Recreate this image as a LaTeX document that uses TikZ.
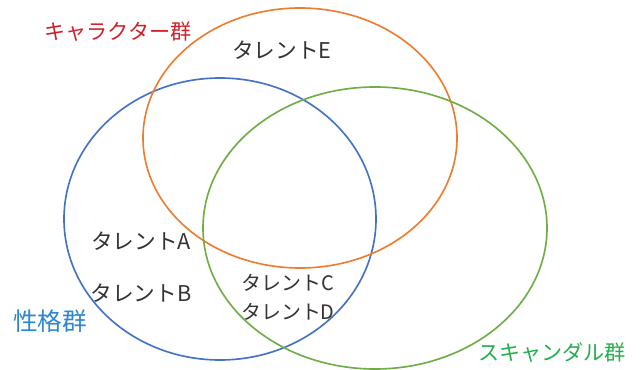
\documentclass[tikz,border=0pt]{standalone}
\usepackage{fontspec}
\setmainfont{Noto Sans CJK JP}
\usepackage{xcolor}
\usetikzlibrary{positioning}
\definecolor{vennblue}{HTML}{4472C4}
\definecolor{vennorange}{HTML}{ED7D31}
\definecolor{venngreen}{HTML}{70AD47}
\definecolor{labelred}{HTML}{D0202A}
\definecolor{labelblue}{HTML}{2E86D0}
\definecolor{labelgreen}{HTML}{22B04A}

\begin{document}
\begin{tikzpicture}[x=0.03cm,y=-0.03cm,
  font=\fontsize{18.5}{21}\selectfont,
  setline/.style={line width=1.4pt},
  talent/.style={text=black!80},
  grouplabel/.style={inner sep=0pt,font=\fontsize{18}{21}\selectfont}]
  \useasboundingbox[fill=white] (0,0) rectangle (643,370);
  % the three groups
  \draw[setline,vennblue] (220,219) ellipse [x radius=156, y radius=141];
  \draw[setline,vennorange] (300,138) ellipse [x radius=157, y radius=130];
  \draw[setline,venngreen] (375,228) ellipse [x radius=172, y radius=141];
  % group names
  \node[grouplabel,labelred] (chara) at (118,32) {キャラクター群};
  \node[grouplabel,labelblue,font=\fontsize{21}{24}\selectfont] (seikaku) at (50,321) {性格群};
  \node[grouplabel,labelgreen] (scandal) at (552,353) {スキャンダル群};
  % talents
  \node[talent] (tE) at (282,50) {タレントE};
  \node[talent] (tA) at (141,241) {タレントA};
  \node[talent] (tB) at (141,293) {タレントB};
  \node[talent,font=\fontsize{17}{20}\selectfont] (tC) at (288,283) {タレントC};
  \node[talent,font=\fontsize{17}{20}\selectfont,below=3pt of tC] (tD) {タレントD};
\end{tikzpicture}
\end{document}
